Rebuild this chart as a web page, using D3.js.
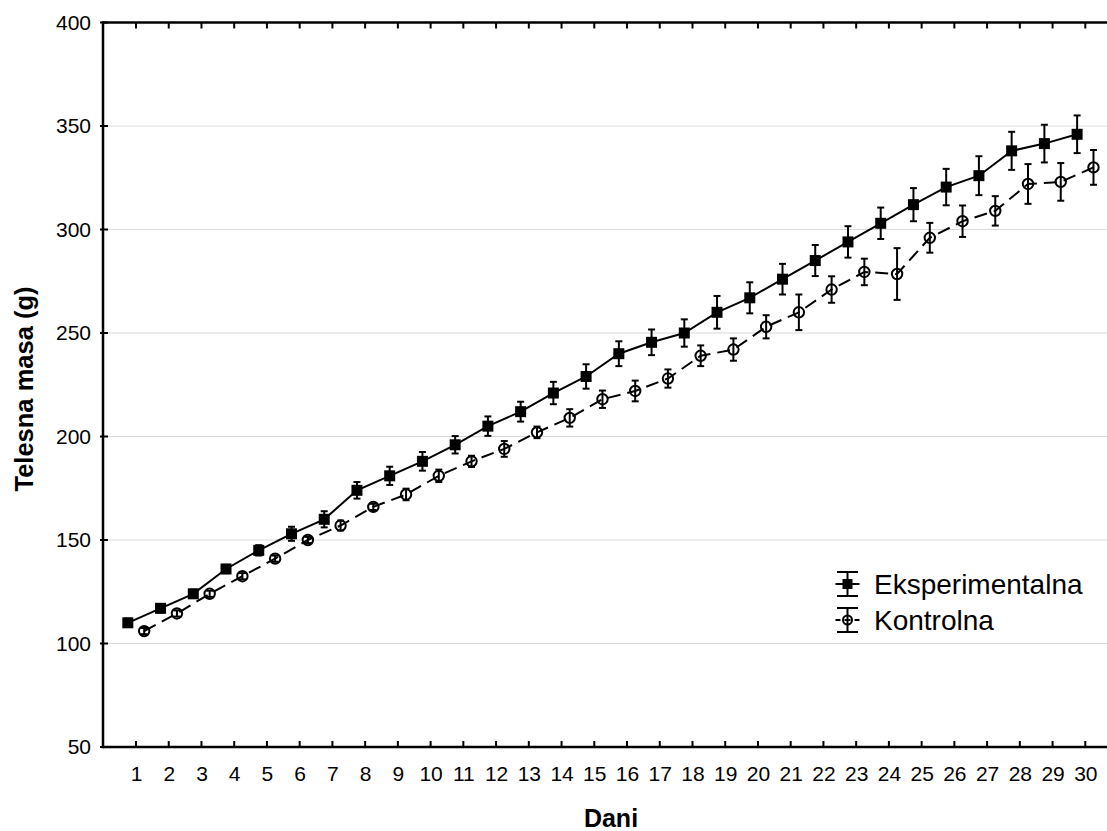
<!DOCTYPE html>
<html>
<head>
<meta charset="utf-8">
<script src="https://cdn.jsdelivr.net/npm/d3@7"></script>
<style>
  html, body { margin: 0; padding: 0; background: #fff; }
  svg { display: block; font-family: "Liberation Sans", Arial, sans-serif; }
</style>
</head>
<body>
<svg id="chart" width="1107" height="831"></svg>
<script>
// Body mass (g) per day, mean ± error, for the two groups
const days = [1,2,3,4,5,6,7,8,9,10,11,12,13,14,15,16,17,18,19,20,21,22,23,24,25,26,27,28,29,30];
const eksperimentalna = [110,117,124,136,145,153,160,174,181,188,196,205,212,221,229,240,245.5,250,260,267,276,285,294,303,312,320.5,326,338,341.5,346];
const eksperimentalnaErr = [2,2,2,2,2.5,3.4,3.9,4,4.4,4.5,4.2,4.7,4.8,5.4,5.9,6,6.2,6.6,7.9,7.5,7.4,7.5,7.6,7.6,8,8.8,9.4,9.2,9.1,9.1];
const kontrolna = [106,114.5,124,132.5,141,150,157,166,172,181,188,194,202,209,218,222,228,239,242,253,260,271,279.5,278.5,296,304,309,322,323,330];
const kontrolnaErr = [1.5,1.5,1.5,1.5,1.5,1.5,2.4,1.5,2.8,3,2.7,3.8,2.8,4.2,4.2,5,4.4,5,5.4,5.6,8.6,6.4,6.4,12.5,7.2,7.6,7.1,9.6,9.1,8.4];
const yTicks = [50,100,150,200,250,300,350,400];
const seriesNames = ["Eksperimentalna", "Kontrolna"];

const svg = d3.select("#chart");
const plotLeft = 103, plotRight = 1107, plotTop = 22.5, plotBottom = 747;
const tickFont = 21;

const x = d3.scaleLinear().domain([1, 30]).range([136, 1085.3]);
const y = d3.scaleLinear().domain([50, 400]).range([plotBottom, plotTop]);
const shift = 0.25; // horizontal offset of each group around the day tick

// horizontal grid
svg.append("g").selectAll("line")
  .data(yTicks.filter(v => v > 50 && v < 400))
  .join("line")
  .attr("x1", plotLeft).attr("x2", plotRight)
  .attr("y1", d => y(d)).attr("y2", d => y(d))
  .attr("stroke", "#d9d9d9").attr("stroke-width", 1.2);

// axes
const yAxis = svg.append("g").attr("transform", `translate(${plotLeft},0)`)
  .call(d3.axisLeft(y).tickValues(yTicks).tickSize(0).tickPadding(12));
yAxis.select(".domain").remove();
yAxis.selectAll("text").attr("font-size", tickFont).attr("fill", "#000")
  .attr("font-family", "Liberation Sans, Arial, sans-serif");
svg.append("g").selectAll("line").data(yTicks).join("line")
  .attr("x1", plotLeft - 3).attr("x2", plotLeft + 5)
  .attr("y1", d => y(d)).attr("y2", d => y(d))
  .attr("stroke", "#000").attr("stroke-width", 2);

const xAxis = svg.append("g").attr("transform", `translate(0,${plotBottom})`)
  .call(d3.axisBottom(x).tickValues(days).tickFormat(d3.format("d")).tickSize(0).tickPadding(19));
xAxis.select(".domain").remove();
xAxis.selectAll("text").attr("font-size", tickFont).attr("fill", "#000")
  .attr("font-family", "Liberation Sans, Arial, sans-serif");

// bottom and top tick marks (inward)
svg.append("g").selectAll("line").data(days).join("line")
  .attr("x1", d => x(d)).attr("x2", d => x(d))
  .attr("y1", plotBottom).attr("y2", plotBottom - 6)
  .attr("stroke", "#000").attr("stroke-width", 2);
svg.append("g").selectAll("line").data(days).join("line")
  .attr("x1", d => x(d)).attr("x2", d => x(d))
  .attr("y1", plotTop).attr("y2", plotTop + 6)
  .attr("stroke", "#000").attr("stroke-width", 2);

// frame lines
svg.append("line").attr("x1", plotLeft).attr("x2", plotLeft).attr("y1", plotTop - 1.2).attr("y2", plotBottom + 1.2)
  .attr("stroke", "#000").attr("stroke-width", 2.5);
svg.append("line").attr("x1", plotLeft).attr("x2", plotRight).attr("y1", plotBottom).attr("y2", plotBottom)
  .attr("stroke", "#000").attr("stroke-width", 2.5);
svg.append("line").attr("x1", plotLeft).attr("x2", plotRight).attr("y1", plotTop).attr("y2", plotTop)
  .attr("stroke", "#000").attr("stroke-width", 2.5);

// axis titles
svg.append("text")
  .attr("transform", "translate(33,389) rotate(-90)")
  .attr("text-anchor", "middle")
  .attr("font-size", 25.5).attr("font-weight", "bold")
  .text("Telesna masa (g)");
svg.append("text")
  .attr("x", 611).attr("y", 827)
  .attr("text-anchor", "middle")
  .attr("font-size", 25).attr("font-weight", "bold")
  .text("Dani");

// build series rows
const rowsE = days.map((d, i) => ({ day: d - shift, v: eksperimentalna[i], e: eksperimentalnaErr[i] }));
const rowsK = days.map((d, i) => ({ day: d + shift, v: kontrolna[i], e: kontrolnaErr[i] }));

const line = d3.line().x(d => x(d.day)).y(d => y(d.v));

// connecting lines
svg.append("path").datum(rowsK).attr("d", line)
  .attr("fill", "none").attr("stroke", "#000").attr("stroke-width", 2)
  .attr("stroke-dasharray", "13,7");
svg.append("path").datum(rowsE).attr("d", line)
  .attr("fill", "none").attr("stroke", "#000").attr("stroke-width", 2);

// error bars
function errorBars(rows) {
  const g = svg.append("g").attr("stroke", "#000").attr("stroke-width", 2);
  g.selectAll("line.v").data(rows).join("line").attr("class", "v")
    .attr("x1", d => x(d.day)).attr("x2", d => x(d.day))
    .attr("y1", d => y(d.v + d.e)).attr("y2", d => y(d.v - d.e));
  g.selectAll("line.t").data(rows).join("line").attr("class", "t")
    .attr("x1", d => x(d.day) - 3.5).attr("x2", d => x(d.day) + 3.5)
    .attr("y1", d => y(d.v + d.e)).attr("y2", d => y(d.v + d.e));
  g.selectAll("line.b").data(rows).join("line").attr("class", "b")
    .attr("x1", d => x(d.day) - 3.5).attr("x2", d => x(d.day) + 3.5)
    .attr("y1", d => y(d.v - d.e)).attr("y2", d => y(d.v - d.e));
}
errorBars(rowsK);
errorBars(rowsE);

// markers
svg.append("g").selectAll("rect").data(rowsE).join("rect")
  .attr("x", d => x(d.day) - 5.5).attr("y", d => y(d.v) - 5.5)
  .attr("width", 11).attr("height", 11).attr("fill", "#000");
svg.append("g").selectAll("circle").data(rowsK).join("circle")
  .attr("cx", d => x(d.day)).attr("cy", d => y(d.v)).attr("r", 5.2)
  .attr("fill", "none").attr("stroke", "#000").attr("stroke-width", 2);

// legend
const legend = svg.append("g");
const lx = 847.5, ly = [584, 620];
seriesNames.forEach((name, i) => {
  const g = legend.append("g").attr("stroke", "#000").attr("stroke-width", 2);
  const cy = ly[i];
  g.append("line").attr("x1", lx).attr("x2", lx).attr("y1", cy - 12).attr("y2", cy + 12);
  g.append("line").attr("x1", lx - 10.5).attr("x2", lx + 10.5).attr("y1", cy - 12).attr("y2", cy - 12);
  g.append("line").attr("x1", lx - 10.5).attr("x2", lx + 10.5).attr("y1", cy + 12).attr("y2", cy + 12);
  const h = g.append("line").attr("x1", lx - 12).attr("x2", lx + 12).attr("y1", cy).attr("y2", cy);
  if (i === 0) {
    g.append("rect").attr("x", lx - 5).attr("y", cy - 5).attr("width", 10).attr("height", 10)
      .attr("fill", "#000").attr("stroke", "none");
  } else {
    h.attr("stroke-dasharray", "6,4").attr("stroke-dashoffset", 1);
    g.append("circle").attr("cx", lx).attr("cy", cy).attr("r", 4.5).attr("fill", "none");
  }
  legend.append("text").attr("x", 874).attr("y", cy).attr("dy", "0.36em")
    .attr("font-size", 28).attr("fill", "#000").text(name);
});
</script>
</body>
</html>
